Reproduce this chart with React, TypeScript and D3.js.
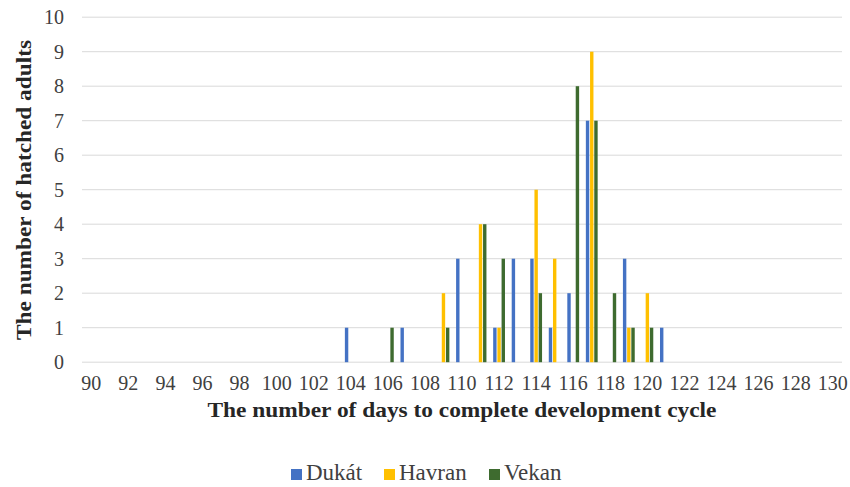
import React, { useEffect, useRef } from 'react';
import * as d3 from 'd3';

// days 90..130, one category per day
const days: number[] = d3.range(90, 131);
const seriesNames = ['Dukát', 'Havran', 'Vekan'];
const seriesColors = ['#4472c4', '#ffc000', '#3e6b2f'];

// counts per day (only non-zero days listed)
const dukat: [number, number][] = [
  [104, 1], [107, 1], [110, 3], [112, 1], [113, 3], [114, 3], [115, 1], [116, 2], [117, 7], [119, 3], [121, 1],
];
const havran: [number, number][] = [
  [109, 2], [111, 4], [112, 1], [114, 5], [115, 3], [117, 9], [119, 1], [120, 2],
];
const vekan: [number, number][] = [
  [106, 1], [109, 1], [111, 4], [112, 3], [114, 2], [116, 8], [117, 7], [118, 2], [119, 1], [120, 1],
];
const yTicks = d3.range(0, 11);

const App = () => {
  const svgRef = useRef<SVGSVGElement>(null);

  useEffect(() => {
    const svg = d3.select(svgRef.current);
    svg.selectAll('*').remove();
    const font = '"Liberation Serif", "DejaVu Serif", serif';
    const left = 82, right = 842, top = 17.2, bottom = 362.2;

    const x = d3.scaleBand<string>()
      .domain(days.map(String))
      .range([left, right]);

    const xSub = d3.scaleBand<string>()
      .domain(seriesNames)
      .range([0, x.bandwidth()])
      .paddingInner(0.19)
      .paddingOuter(0.8);

    const y = d3.scaleLinear().domain([0, 10]).range([bottom, top]);

    // gridlines
    svg.append('g')
      .selectAll('line')
      .data(yTicks)
      .join('line')
      .attr('x1', left)
      .attr('x2', right)
      .attr('y1', d => y(d))
      .attr('y2', d => y(d))
      .attr('stroke', '#d9d9d9')
      .attr('stroke-width', 1);

    // y tick labels
    svg.append('g')
      .selectAll('text')
      .data(yTicks)
      .join('text')
      .attr('x', 64)
      .attr('y', d => y(d))
      .attr('dy', '0.35em')
      .attr('text-anchor', 'end')
      .style('font-family', font)
      .style('font-size', '20px')
      .attr('fill', '#404040')
      .text(d => d);

    // bars
    const allSeries = [dukat, havran, vekan];
    allSeries.forEach((s, i) => {
      svg.append('g')
        .selectAll('rect')
        .data(s)
        .join('rect')
        .attr('x', d => (x(String(d[0])) as number) + (xSub(seriesNames[i]) as number))
        .attr('y', d => y(d[1]))
        .attr('width', xSub.bandwidth())
        .attr('height', d => y(0) - y(d[1]))
        .attr('fill', seriesColors[i]);
    });

    // x tick labels, every second day
    svg.append('g')
      .selectAll('text')
      .data(days.filter(d => d % 2 === 0))
      .join('text')
      .attr('x', d => (x(String(d)) as number) + x.bandwidth() / 2)
      .attr('y', 390)
      .attr('text-anchor', 'middle')
      .style('font-family', font)
      .style('font-size', '20px')
      .attr('fill', '#404040')
      .text(d => d);

    // axis titles
    svg.append('text')
      .attr('x', 462)
      .attr('y', 417)
      .attr('text-anchor', 'middle')
      .attr('textLength', 509)
      .attr('lengthAdjust', 'spacingAndGlyphs')
      .style('font-family', font)
      .style('font-size', '22px')
      .style('font-weight', 'bold')
      .attr('fill', '#262626')
      .text('The number of days to complete development cycle');

    svg.append('text')
      .attr('transform', 'translate(31,190) rotate(-90)')
      .attr('text-anchor', 'middle')
      .attr('textLength', 300)
      .attr('lengthAdjust', 'spacingAndGlyphs')
      .style('font-family', font)
      .style('font-size', '22px')
      .style('font-weight', 'bold')
      .attr('fill', '#262626')
      .text('The number of hatched adults');

    // legend
    const legendX = [291, 384, 489];
    const legend = svg.append('g');
    seriesNames.forEach((name, i) => {
      legend.append('rect')
        .attr('x', legendX[i])
        .attr('y', 469)
        .attr('width', 11)
        .attr('height', 11)
        .attr('fill', seriesColors[i]);
      legend.append('text')
        .attr('x', legendX[i] + 15)
        .attr('y', 480)
        .style('font-family', font)
        .style('font-size', '23px')
        .attr('fill', '#404040')
        .text(name);
    });
  }, []);

  return (
    <svg
      ref={svgRef}
      width={850}
      height={487}
      style={{ position: 'absolute', left: 0, top: 0, background: '#fff' }}
    />
  );
};

export default App;
